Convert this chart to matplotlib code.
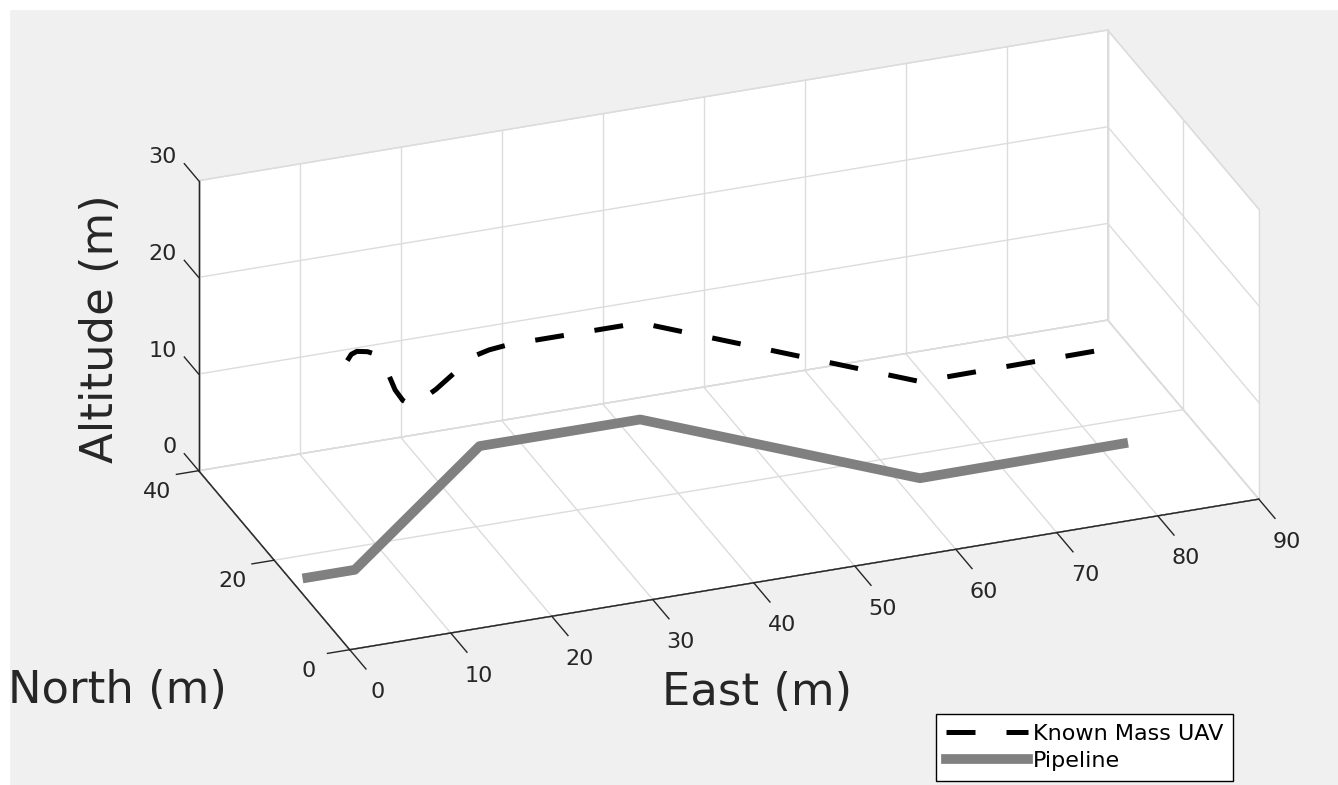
import numpy as np
import matplotlib.pyplot as plt
from matplotlib.patches import Rectangle

# pipeline route on the ground (m)
pipe_east = [1.6, 6.3, 26.2, 42.1, 62.1, 82.3]
pipe_north = [15.5, 15.5, 35.7, 35.7, 15.1, 15.3]
pipe_alt = [0, 0, 0, 0, 0, 0]

# known mass UAV track (m)
uav_east = [13.9, 14.7, 15.4, 16.3, 16.9, 16.9, 16.4, 15.9, 15.8, 16.1, 16.8,
            19.5, 22.6, 25.3, 27.0, 29.1, 42.1, 62.1, 80.2]
uav_north = [37.8, 38.9, 39.3, 38.9, 38.0, 36.4, 33.4, 30.5, 28.2, 27.2, 27.2,
             29.3, 32.2, 34.6, 35.3, 35.7, 35.7, 15.1, 15.4]
uav_alt = [10] * len(uav_east)

east_ticks = [0, 10, 20, 30, 40, 50, 60, 70, 80, 90]
north_ticks = [0, 20, 40]
alt_ticks = [0, 10, 20, 30]

txt = '#262626'
gridc = '#dcdcdc'
e0, e1 = 0, 90
n0, n1 = 0, 40
z0, z1 = 0, 30

fig = plt.figure(figsize=(13.38, 7.85), dpi=100, facecolor='#f0f0f0')
ax = fig.add_axes([0.0367, 0.0535, 1.0, 1.0], projection='3d', proj_type='ortho')
ax.set_facecolor((0, 0, 0, 0))

ax.plot(uav_east, uav_north, uav_alt, color='black', linewidth=3.6,
        linestyle=(0, (5.8, 6.2)), label='Known Mass UAV', zorder=5, clip_on=False)
ax.plot(pipe_east, pipe_north, pipe_alt, color='#808080', linewidth=7,
        label='Pipeline', zorder=4, clip_on=False)

ax.set_xlim(e0, e1)
ax.set_ylim(n0, n1)
ax.set_zlim(z0, z1)
ax.set_xticks([])
ax.set_yticks([])
ax.set_zticks([])
ax.set_box_aspect((90, 40, 30), zoom=1.373)
ax.view_init(elev=26.3, azim=-110.5)

for a in (ax.xaxis, ax.yaxis, ax.zaxis):
    a.set_pane_color((1, 1, 1, 1))
    a.pane.set_edgecolor(gridc)
    a.line.set_color(txt)
    a.line.set_linewidth(1.0)
ax.xaxis.set_ticks_position('lower')
ax.yaxis.set_ticks_position('lower')

# grid on the floor, back wall and right wall
g = dict(color=gridc, linewidth=1.0, zorder=1, clip_on=False)
for e in east_ticks:
    ax.plot([e, e], [n0, n1], [z0, z0], **g)
    ax.plot([e, e], [n1, n1], [z0, z1], **g)
for n in north_ticks:
    ax.plot([e0, e1], [n, n], [z0, z0], **g)
    ax.plot([e1, e1], [n, n], [z0, z1], **g)
for z in alt_ticks:
    ax.plot([e0, e1], [n1, n1], [z, z], **g)
    ax.plot([e1, e1], [n0, n1], [z, z], **g)

# dark axis lines on top of the grid
t = dict(color=txt, linewidth=1.0, zorder=3, clip_on=False)
ax.plot([e0, e1], [n0, n0], [z0, z0], **t)
ax.plot([e0, e0], [n0, n1], [z0, z0], **t)
ax.plot([e0, e0], [n1, n1], [z0, z1], **t)

# tick marks, pointing the way MATLAB draws them
for e in east_ticks:
    ax.plot([e, e], [n0, n0 - 4.3], [z0, z0], **t)
for n in north_ticks:
    ax.plot([e0, e0 - 2.2], [n, n], [z0, z0], **t)
for z in alt_ticks:
    ax.plot([e0, e0], [n1, n1 + 3.8], [z, z], **t)

# tick labels
for e in east_ticks:
    ax.text(e, -7.45, -0.95, str(e), fontsize=16, color=txt, ha='center', va='center')
for n in north_ticks:
    ax.text(-4.1, n, -1.48, str(n), fontsize=16, color=txt, ha='center', va='center')
for z in alt_ticks:
    ax.text(-0.2, 45.3, z, str(z), fontsize=16, color=txt, ha='right', va='center')

fig.text(0.088, 0.12, 'North (m)', fontsize=32.3, color=txt, ha='center', va='center')
fig.text(0.566, 0.118, 'East (m)', fontsize=32.3, color=txt, ha='center', va='center')
fig.text(0.075, 0.582, 'Altitude (m)', fontsize=32.3, color=txt, ha='center',
         va='center', rotation=90)

leg = fig.legend(loc='lower right', bbox_to_anchor=(0.925, 0.0), fontsize=16,
                 handlelength=3.7, handletextpad=0.2, labelspacing=0.3,
                 borderpad=0.45, borderaxespad=0.2, fancybox=False, framealpha=1)
leg.get_frame().set_edgecolor('black')
leg.get_frame().set_linewidth(1.0)

# white strips along the top and left edge of the screenshot
fig.add_artist(Rectangle((0, 1 - 9 / 785), 1, 9 / 785, transform=fig.transFigure,
                         color='white', zorder=10))
fig.add_artist(Rectangle((0, 0), 9 / 1338, 1, transform=fig.transFigure,
                         color='white', zorder=10))

fig.savefig('out.png', dpi=100, facecolor=fig.get_facecolor())
